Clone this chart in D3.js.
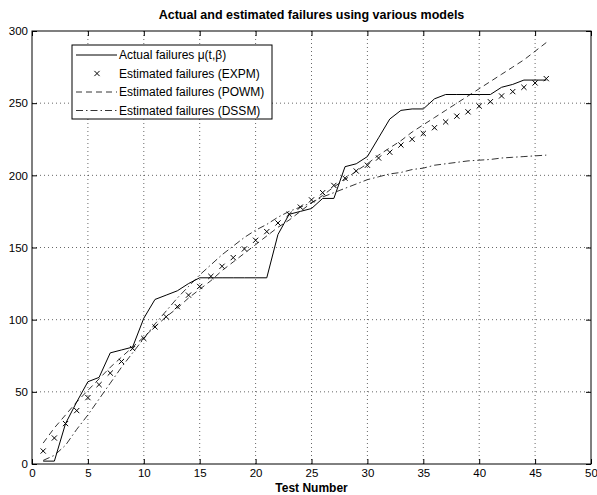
<!DOCTYPE html>
<html>
<head>
<meta charset="utf-8">
<script src="https://cdn.jsdelivr.net/npm/d3@7"></script>
<style>
  body { margin: 0; background: #fff; }
  text { font-family: "Liberation Sans", Arial, Helvetica, sans-serif; }
</style>
</head>
<body>
<script>
const svgWidth = 597;
const svgHeight = 495;

// test numbers 1..46
const tests = [1,2,3,4,5,6,7,8,9,10,11,12,13,14,15,16,17,18,19,20,21,22,23,24,25,26,27,28,29,30,31,32,33,34,35,36,37,38,39,40,41,42,43,44,45,46];
const actual = [2,2,28,43,57,60,77,79,81,101,114,117,120,125,129,129,129,129,129,129,129,159,173,175,177,184,184,206,208,213,226,239,245,246,246,253,256,256,256,256,256,261,263,266,266,266];
const expm = [9,18,28,37,46,55,63,71,80,87,95,102,109,117,123,130,137,143,149,155,161,167,173,178,183,188,193,198,203,207,212,216,221,225,229,233,237,241,244,248,251,255,258,261,264,267];
const powm = [14.5,25,34,43,51,59,67,74,81,88,95,102,108,115,121,127,134,140,146,152,158,164,169,175,181,186,192,197,203,208,214,219,224,230,235,240,245,250,255,260,265,270,275,280,286,292];
const dssm = [2.5,6,13,24,34,45,56,67,77,87,97,106,115,123,131,138,145,151,157,162,166,171,175,178,181,185,188,191,194,197,199,201,202,204,205,207,208,209,210,210.5,211,212,212.5,213,213.5,214];

const xTicks = [0,5,10,15,20,25,30,35,40,45,50];
const yTicks = [0,50,100,150,200,250,300];
const legendLabels = ["Actual failures \u03bc(t,\u03b2)", "Estimated failures (EXPM)", "Estimated failures (POWM)", "Estimated failures (DSSM)"];

const plotLeft = 32, plotRight = 591, plotTop = 31, plotBottom = 464;

const svg = d3.select("body").append("svg")
            .attr("width", svgWidth)
            .attr("height", svgHeight);

var xScale = d3.scaleLinear().domain([0,50]).range([plotLeft, plotRight]);
var yScale = d3.scaleLinear().domain([0,300]).range([plotBottom, plotTop]);

// grid, dotted
xTicks.slice(1, -1).forEach(function(t) {
  svg.append("line")
     .attr("x1", xScale(t)).attr("x2", xScale(t))
     .attr("y1", plotTop).attr("y2", plotBottom)
     .attr("stroke", "#000").attr("stroke-width", 0.6)
     .attr("stroke-dasharray", "1,3");
});
yTicks.slice(1, -1).forEach(function(t) {
  svg.append("line")
     .attr("x1", plotLeft).attr("x2", plotRight)
     .attr("y1", yScale(t)).attr("y2", yScale(t))
     .attr("stroke", "#000").attr("stroke-width", 0.6)
     .attr("stroke-dasharray", "1,3");
});

// axes with inward ticks on all four sides
const tickLen = 5;
svg.append("g").attr("transform", "translate(0," + plotBottom + ")")
   .call(d3.axisBottom(xScale).tickValues(xTicks).tickSizeInner(-tickLen).tickSizeOuter(0).tickPadding(5));
svg.append("g").attr("transform", "translate(0," + plotTop + ")")
   .call(d3.axisTop(xScale).tickValues(xTicks).tickSizeInner(-tickLen).tickSizeOuter(0).tickFormat(""));
svg.append("g").attr("transform", "translate(" + plotLeft + ",0)")
   .call(d3.axisLeft(yScale).tickValues(yTicks).tickSizeInner(-tickLen).tickSizeOuter(0).tickPadding(4));
svg.append("g").attr("transform", "translate(" + plotRight + ",0)")
   .call(d3.axisRight(yScale).tickValues(yTicks).tickSizeInner(-tickLen).tickSizeOuter(0).tickFormat(""));
svg.selectAll(".tick text").attr("font-size", 11.5).attr("fill", "#000")
   .attr("font-family", "'Liberation Sans', Arial, sans-serif");
svg.selectAll(".domain").attr("stroke", "none");
svg.selectAll(".tick line").attr("stroke", "#000");

svg.append("rect")
   .attr("x", plotLeft).attr("y", plotTop)
   .attr("width", plotRight - plotLeft).attr("height", plotBottom - plotTop)
   .attr("fill", "none").attr("stroke", "#000").attr("stroke-width", 1);

const line = d3.line()
             .x(function(d) { return xScale(d[0]); })
             .y(function(d) { return yScale(d[1]); });

function pairs(vals) { return tests.map(function(t, i) { return [t, vals[i]]; }); }

svg.append("path").attr("d", line(pairs(dssm)))
   .attr("fill", "none").attr("stroke", "#000").attr("stroke-width", 0.8)
   .attr("stroke-dasharray", "7,3,1.5,3");
svg.append("path").attr("d", line(pairs(powm)))
   .attr("fill", "none").attr("stroke", "#000").attr("stroke-width", 0.8)
   .attr("stroke-dasharray", "6,4");
svg.append("path").attr("d", line(pairs(actual)))
   .attr("fill", "none").attr("stroke", "#000").attr("stroke-width", 1);

function cross(g, cx, cy) {
  const s = 2.6;
  g.append("path")
   .attr("d", "M" + (cx - s) + "," + (cy - s) + "L" + (cx + s) + "," + (cy + s) +
              "M" + (cx - s) + "," + (cy + s) + "L" + (cx + s) + "," + (cy - s))
   .attr("stroke", "#000").attr("stroke-width", 1).attr("fill", "none");
}
pairs(expm).forEach(function(d) { cross(svg, xScale(d[0]), yScale(d[1])); });

// title and x label
svg.append("text").attr("x", (plotLeft + plotRight) / 2).attr("y", 19)
   .attr("text-anchor", "middle").attr("font-size", 12.5).attr("font-weight", "bold")
   .text("Actual and estimated failures using various models");
svg.append("text").attr("x", (plotLeft + plotRight) / 2).attr("y", 492)
   .attr("text-anchor", "middle").attr("font-size", 12).attr("font-weight", "bold")
   .text("Test Number");

// legend
var legend = svg.append("g");
legend.append("rect")
      .attr("x", 72).attr("y", 45).attr("width", 200).attr("height", 74)
      .attr("fill", "#fff").attr("stroke", "#000").attr("stroke-width", 1);
const rowY = [55, 73.5, 92, 110.5];
const styles = [null, "x", "6,4", "7,3,1.5,3"];
legendLabels.forEach(function(lab, i) {
  if (styles[i] === "x") {
    cross(legend, 97, rowY[i]);
  } else {
    legend.append("line")
          .attr("x1", 76).attr("x2", 117).attr("y1", rowY[i]).attr("y2", rowY[i])
          .attr("stroke", "#000").attr("stroke-width", i === 0 ? 1 : 0.8)
          .attr("stroke-dasharray", styles[i]);
  }
  legend.append("text").attr("x", 119).attr("y", rowY[i] + 4.3)
        .attr("font-size", 12).text(lab);
});
</script>
</body>
</html>
